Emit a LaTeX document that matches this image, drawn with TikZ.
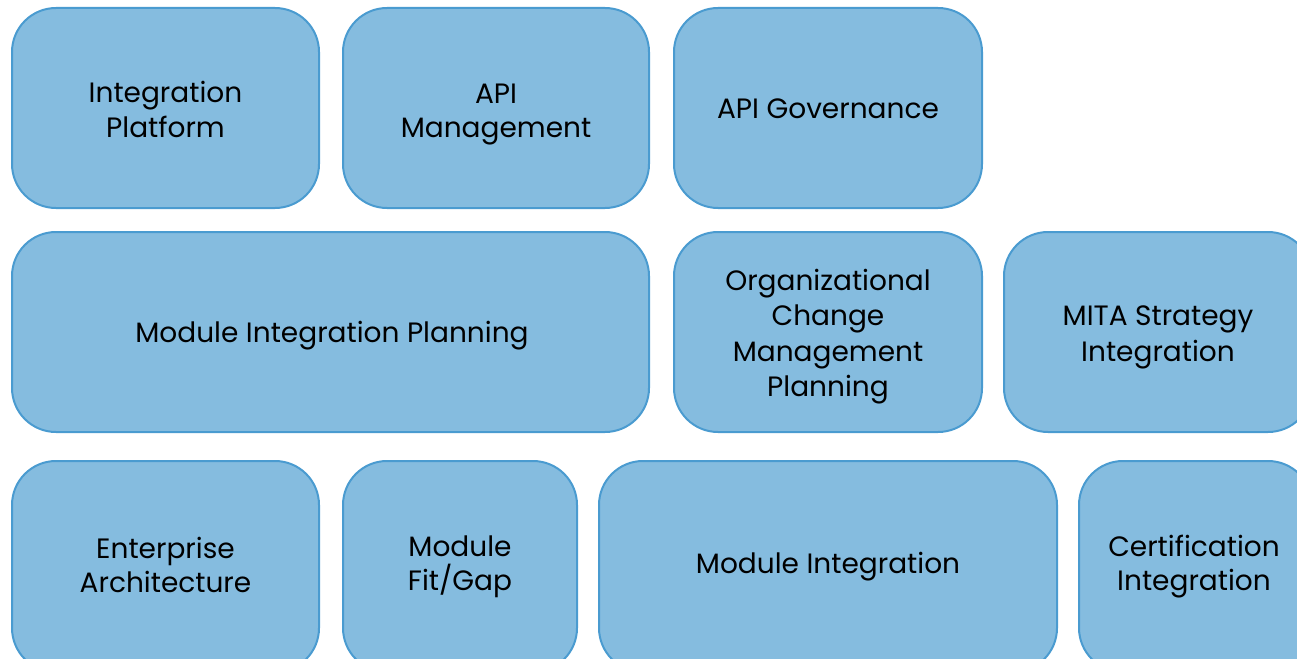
\documentclass[tikz,border=0pt]{standalone}
\usepackage{fontspec}
\setmainfont{Poppins}
\definecolor{boxfill}{HTML}{85BCDF}
\definecolor{boxline}{HTML}{4A9BD0}
\newcommand\ls{\rule[-7.5pt]{0pt}{34pt}}
\begin{document}
\begin{tikzpicture}[x=1pt,y=-1pt,
  blk/.style={draw=boxline,fill=boxfill,line width=2pt,rounded corners=44pt},
  lbl/.style={align=center,font=\fontsize{28}{34}\selectfont,text=black,inner sep=0pt}]
\useasboundingbox (0,0) rectangle (1297,658);
\clip (0,0) rectangle (1297,658);
% row 1
\draw[blk] (12,8) rectangle (319,208); \node[lbl] (ip) at (165.5,110.5) {\ls Integration\\\ls Platform};
\draw[blk] (343,8) rectangle (649,208); \node[lbl] (am) at (496,111) {\ls API\\\ls Management};
\draw[blk] (674,8) rectangle (982,208); \node[lbl] (ag) at (828,109) {\ls API Governance};
% row 2
\draw[blk] (12,232) rectangle (649,432); \node[lbl] (mip) at (332,333.5) {\ls Module Integration Planning};
\draw[blk] (674,232) rectangle (982,432); \node[lbl] (ocm) at (828,334) {\ls Organizational\\\ls Change\\\ls Management\\\ls Planning};
\draw[blk] (1004,232) rectangle (1312,432); \node[lbl] (mita) at (1158,334) {\ls MITA Strategy\\\ls Integration};
% row 3
\draw[blk] (12,461) rectangle (319,672); \node[lbl] (ea) at (165.5,566) {\ls Enterprise\\\ls Architecture};
\draw[blk] (343,461) rectangle (577,672); \node[lbl] (mfg) at (460,564) {\ls Module\\\ls Fit/Gap};
\draw[blk] (599,461) rectangle (1057,672); \node[lbl] (mi) at (828,564) {\ls Module Integration};
\draw[blk] (1079,461) rectangle (1312,672); \node[lbl] (ci) at (1194,564) {\ls Certification\\\ls Integration};
\end{tikzpicture}
\end{document}
